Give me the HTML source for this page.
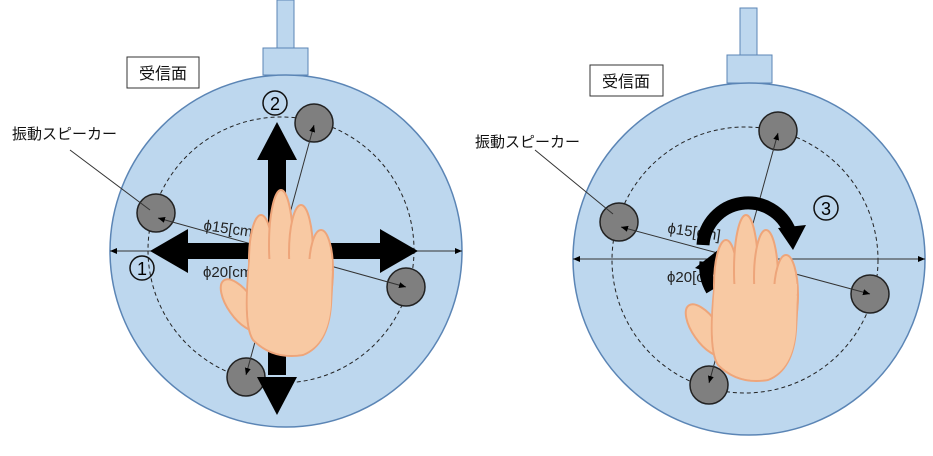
<!DOCTYPE html>
<html><head><meta charset="utf-8"><style>
html,body{margin:0;padding:0;background:#fff;width:933px;height:456px;overflow:hidden}
svg text{font-family:"Liberation Sans","Noto Sans CJK JP",sans-serif}
</style></head><body>
<svg width="933" height="456" viewBox="0 0 933 456">
<defs>
<marker id="ah" markerWidth="8" markerHeight="8" refX="7" refY="4" orient="auto-start-reverse"><path d="M0,1 L7,4 L0,7 Z" fill="#000"/></marker>
<g id="hand">
<g fill="#f8c9a3" stroke="#eea57a" stroke-width="2">
<ellipse cx="-42" cy="40" rx="13" ry="30" transform="rotate(-35 -42 40)"/>
<ellipse cx="-22" cy="-5" rx="12" ry="45"/>
<ellipse cx="-2" cy="-20" rx="12" ry="55"/>
<ellipse cx="18" cy="-12" rx="12" ry="48"/>
<ellipse cx="38" cy="5" rx="12" ry="40"/>
<path d="M-34,0 Q-40,60 -30,75 Q-10,95 20,90 Q45,80 48,40 L50,5 Z"/>
</g>
<path d="M-33,-6 L49,-6 L48,40 Q45,79 20,89 Q-10,94 -29,74 Q-39,60 -33,-6 Z" fill="#f8c9a3"/>
</g>
</defs>

<!-- LEFT -->
<g>
<rect x="277" y="0" width="17" height="48" fill="#bdd7ee" stroke="#5b85b5"/>
<rect x="263" y="48" width="45" height="27" fill="#bdd7ee" stroke="#5b85b5"/>
<circle cx="286" cy="251" r="176" fill="#bdd7ee" stroke="#5b85b5" stroke-width="1.5"/>
<circle cx="281" cy="250" r="133" fill="none" stroke="#222" stroke-dasharray="4,3"/>
<g fill="#7f7f7f" stroke="#222" stroke-width="1.5">
<circle cx="314" cy="123" r="19"/><circle cx="156" cy="213" r="19"/><circle cx="406" cy="287" r="19"/><circle cx="246" cy="377" r="19"/>
</g>
<line x1="110" y1="251" x2="462" y2="251" stroke="#333" marker-start="url(#ah)" marker-end="url(#ah)"/>
<line x1="406" y1="287" x2="158" y2="218" stroke="#333" marker-start="url(#ah)" marker-end="url(#ah)"/>
<line x1="314" y1="125" x2="246" y2="375" stroke="#333" marker-start="url(#ah)" marker-end="url(#ah)"/>
<line x1="70" y1="150" x2="150" y2="210" stroke="#333"/>
<text x="203" y="230" font-size="15" fill="#222" transform="rotate(8 203 230)">ϕ15[cm]</text>
<text x="203" y="277" font-size="15" fill="#222">ϕ20[cm]</text>
<g fill="#000">
<rect x="268" y="160" width="18" height="215"/>
<path d="M277,122 L257,160 L297,160 Z"/><path d="M277,415 L257,377 L297,377 Z"/>
<rect x="185" y="243" width="196" height="16"/>
<path d="M150,251 L188,229 L188,273 Z"/><path d="M418,251 L380,229 L380,273 Z"/>
</g>
<use href="#hand" transform="translate(283,265)"/>
<rect x="127" y="57" width="72" height="31" fill="#fff" stroke="#333"/>
<text x="163" y="79" font-size="16" text-anchor="middle" fill="#111">受信面</text>
<text x="12" y="139" font-size="15" fill="#111">振動スピーカー</text>
<circle cx="142" cy="268" r="12" fill="none" stroke="#111" stroke-width="1.5"/><text x="142" y="275" font-size="18" text-anchor="middle">1</text>
<circle cx="275" cy="103" r="12" fill="none" stroke="#111" stroke-width="1.5"/><text x="275" y="110" font-size="18" text-anchor="middle">2</text>
</g>

<!-- RIGHT -->
<g>
<rect x="740" y="8" width="17" height="47" fill="#bdd7ee" stroke="#5b85b5"/>
<rect x="727" y="55" width="45" height="28" fill="#bdd7ee" stroke="#5b85b5"/>
<circle cx="749" cy="259" r="176" fill="#bdd7ee" stroke="#5b85b5" stroke-width="1.5"/>
<circle cx="745" cy="260" r="133" fill="none" stroke="#222" stroke-dasharray="4,3"/>
<g fill="#7f7f7f" stroke="#222" stroke-width="1.5">
<circle cx="778" cy="131" r="19"/><circle cx="619" cy="222" r="19"/><circle cx="870" cy="294" r="19"/><circle cx="709" cy="385" r="19"/>
</g>
<line x1="573" y1="259" x2="925" y2="259" stroke="#333" marker-start="url(#ah)" marker-end="url(#ah)"/>
<line x1="870" y1="294" x2="621" y2="227" stroke="#333" marker-start="url(#ah)" marker-end="url(#ah)"/>
<line x1="778" y1="133" x2="709" y2="383" stroke="#333" marker-start="url(#ah)" marker-end="url(#ah)"/>
<line x1="535" y1="150" x2="613" y2="214" stroke="#333"/>
<text x="667" y="233" font-size="15" fill="#222" transform="rotate(8 667 233)">ϕ15[cm]</text>
<text x="667" y="282" font-size="15" fill="#222">ϕ20[cm]</text>
<g>
<path d="M703,245 A45,45 0 0 1 790,232" fill="none" stroke="#000" stroke-width="13"/>
<path d="M778,228 L806,225 L793,250 Z" fill="#000"/>
<path d="M712,290 A45,45 0 0 1 706,262" fill="none" stroke="#000" stroke-width="13"/>
<path d="M695,268 L718,250 L716,275 Z" fill="#000"/>
</g>
<use href="#hand" transform="translate(748,290)"/>
<rect x="590" y="65" width="73" height="31" fill="#fff" stroke="#333"/>
<text x="626" y="87" font-size="16" text-anchor="middle" fill="#111">受信面</text>
<text x="475" y="147" font-size="15" fill="#111">振動スピーカー</text>
<circle cx="826" cy="208" r="12" fill="none" stroke="#111" stroke-width="1.5"/><text x="826" y="215" font-size="18" text-anchor="middle">3</text>
</g>
</svg>
</body></html>
